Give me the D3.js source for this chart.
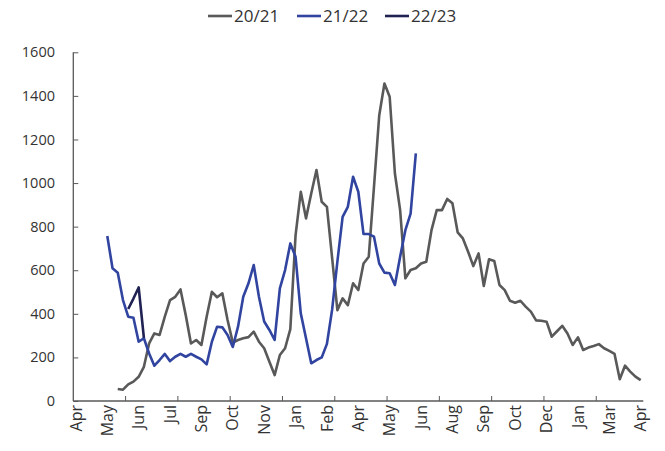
<!DOCTYPE html>
<html>
<head>
<meta charset="utf-8">
<script src="https://cdn.jsdelivr.net/npm/d3@7"></script>
<style>
  body { margin: 0; background: #fff; }
  text { font-family: "Open Sans", sans-serif; fill: #333; }
</style>
</head>
<body>
<div id="chart"></div>
<script>
// DATA
var monthLabels = ["Apr", "May", "Jun", "Jul", "Sep", "Oct", "Nov", "Jan", "Feb", "Apr",
                   "May", "Jun", "Aug", "Sep", "Oct", "Dec", "Jan", "Mar", "Apr"];
var seriesNames = ["20/21", "21/22", "22/23"];
var seriesColors = ["#595959", "#3044a0", "#1f2252"];
var yTicks = [0, 200, 400, 600, 800, 1000, 1200, 1400, 1600];

// weekly values, first week index given by start*
var start2021 = 8;
var values2021 = [55, 52, 76, 89, 111, 157, 264, 310, 303, 387, 463, 478, 512, 394, 264, 280, 257, 387,
                  501, 476, 494, 372, 268, 280, 288, 293, 318, 272, 242, 180, 119, 211, 242, 330,
                  760, 960, 838, 952, 1060, 914, 891, 655, 417, 471, 440, 540, 509, 631, 662, 983,
                  1310, 1457, 1396, 1044, 876, 563, 601, 609, 631, 639, 784, 876, 876, 927, 907,
                  774, 746, 685, 619, 677, 528, 650, 642, 532, 509, 460, 451, 460, 433, 410, 370,
                  368, 364, 295, 320, 345, 310, 257, 292, 234, 245, 252, 261, 242, 230, 216, 100,
                  162, 135, 112, 96];
var start2122 = 6;
var values2122 = [757, 609, 589, 463, 387, 382, 272, 288, 218, 162, 188, 216, 183, 203, 216, 203, 216,
                  203, 191, 168, 272, 341, 338, 303, 248, 341, 478, 540, 624, 478, 365, 326, 280,
                  517, 601, 723, 662, 402, 288, 173, 188, 200, 262, 420, 640, 845, 891, 1029, 960,
                  766, 766, 754, 631, 589, 586, 532, 662, 784, 860, 1136];
var start2223 = 10;
var values2223 = [422, 470, 521, 290];

var nWeeks = 109;   // category slots on the x axis
var labelEvery = 6;
var tickEvery = 10;

// LAYOUT
var svgWidth = 665, svgHeight = 451;
var plot = { left: 73.3, right: 643.3, top: 52.3, bottom: 401 };

var svg = d3.select("#chart")
    .append("svg")
        .attr("width", svgWidth)
        .attr("height", svgHeight);

var x = d3.scaleLinear()
    .domain([0, nWeeks])
    .range([plot.left, plot.right]);

var y = d3.scaleLinear()
    .domain([0, 1600])
    .range([plot.bottom, plot.top]);

// Y axis
var yAxis = svg.append("g")
    .attr("transform", "translate(" + plot.left + ",0)")
    .call(d3.axisRight(y).tickValues(yTicks).tickSize(5).tickFormat(""));
yAxis.select(".domain").remove();
yAxis.selectAll("line").attr("stroke", "#595959");
svg.append("line")
    .attr("x1", plot.left).attr("x2", plot.left)
    .attr("y1", plot.top).attr("y2", plot.bottom)
    .attr("stroke", "#595959").attr("stroke-width", 1.3);

svg.selectAll(".ylabel")
    .data(yTicks)
    .enter()
    .append("text")
        .attr("x", 55)
        .attr("y", d => y(d))
        .attr("dy", "0.35em")
        .attr("text-anchor", "end")
        .style("font-size", "14.5px")
        .text(d => d);

// X axis
var xTickVals = d3.range(tickEvery, nWeeks, tickEvery);
svg.selectAll(".xtick")
    .data(xTickVals)
    .enter()
    .append("line")
        .attr("x1", d => x(d)).attr("x2", d => x(d))
        .attr("y1", plot.bottom).attr("y2", plot.bottom - 5)
        .attr("stroke", "#595959");
svg.append("line")
    .attr("x1", plot.left).attr("x2", plot.right)
    .attr("y1", plot.bottom).attr("y2", plot.bottom)
    .attr("stroke", "#595959").attr("stroke-width", 1.3);

svg.selectAll(".xlabel")
    .data(monthLabels)
    .enter()
    .append("text")
        .attr("transform", (d, i) => "translate(" + x(i * labelEvery + 0.5) + ",405) rotate(-90)")
        .attr("dy", "0.35em")
        .attr("text-anchor", "end")
        .style("font-size", "16px")
        .text(d => d);

// LINES
function toPoints(start, values) {
    return values.map((v, i) => ({ week: start + i, value: v }));
}
var lineData = [
    toPoints(start2021, values2021),
    toPoints(start2122, values2122),
    toPoints(start2223, values2223)
];
var line = d3.line()
    .x(d => x(d.week + 0.5))
    .y(d => y(d.value));

svg.selectAll(".series")
    .data(lineData)
    .enter()
    .append("path")
        .attr("fill", "none")
        .attr("stroke", (d, i) => seriesColors[i])
        .attr("stroke-width", 2.6)
        .attr("stroke-linejoin", "round")
        .attr("d", line);

// LEGEND
var legend = svg.append("g").attr("transform", "translate(208,16)");
var offsets = [0, 89, 177];
seriesNames.forEach(function(name, i) {
    var g = legend.append("g").attr("transform", "translate(" + offsets[i] + ",0)");
    g.append("line")
        .attr("x1", 0).attr("x2", 24)
        .attr("y1", 0).attr("y2", 0)
        .attr("stroke", seriesColors[i])
        .attr("stroke-width", 2.6);
    g.append("text")
        .attr("x", 26)
        .attr("dy", "0.35em")
        .style("font-size", "17px")
        .text(name);
});
</script>
</body>
</html>
